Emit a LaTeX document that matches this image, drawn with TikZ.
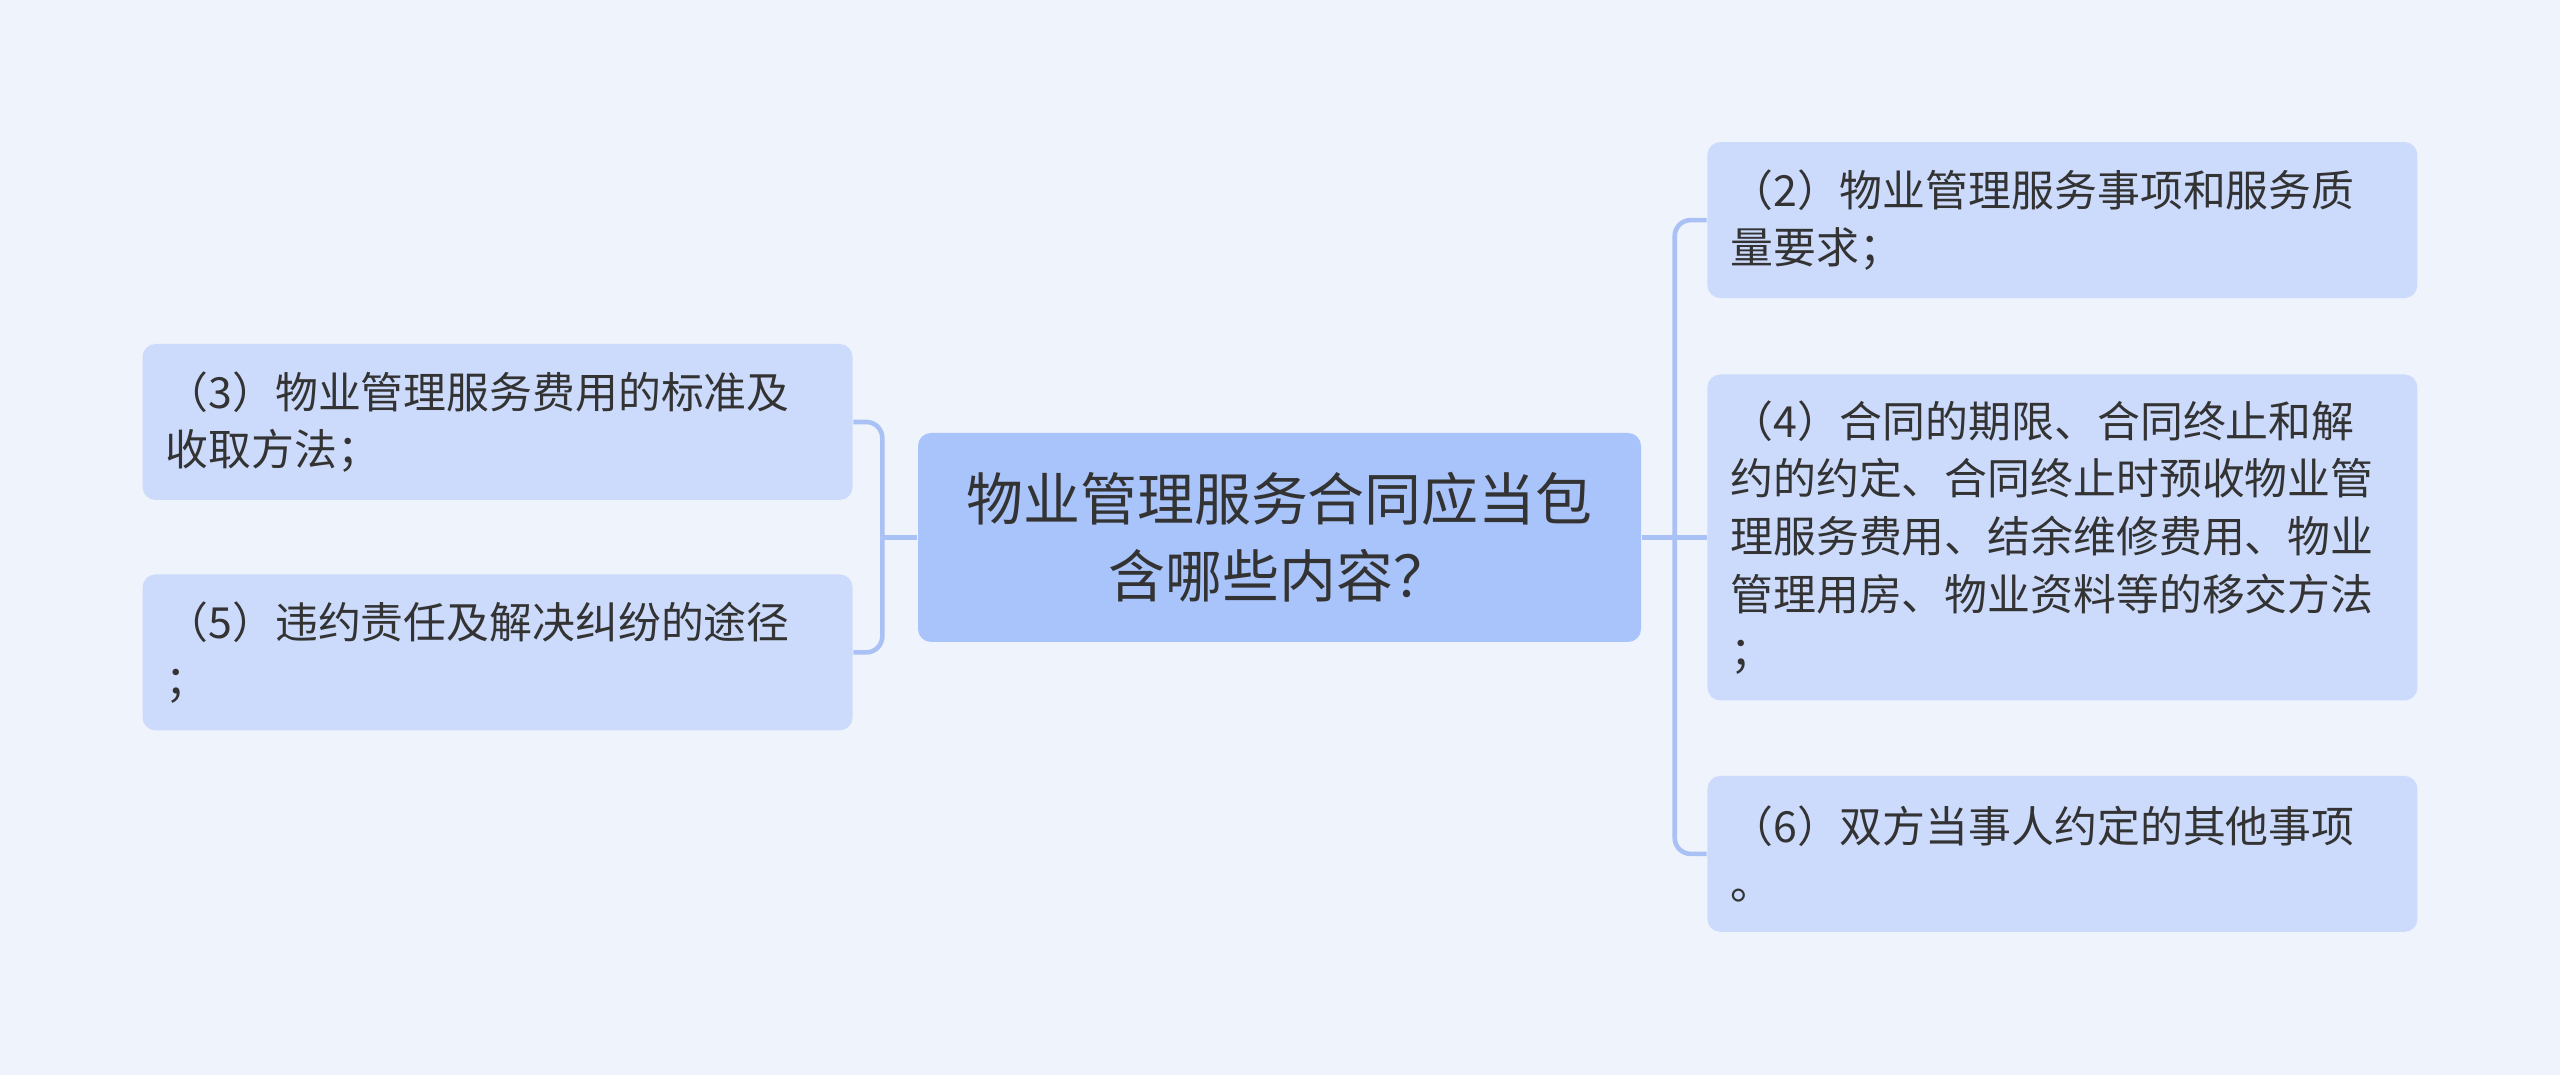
\documentclass[tikz,border=0pt]{standalone}
\usepackage{fontspec}
\setmainfont{Noto Sans CJK SC}
\usepackage{tikz}
\usetikzlibrary{positioning}

\definecolor{bgblue}{HTML}{EEF3FC}
\definecolor{leafblue}{HTML}{CCDAFB}
\definecolor{topicblue}{HTML}{A9C3FB}
\definecolor{linkblue}{HTML}{A9C1F4}
\definecolor{textgray}{HTML}{333333}

\begin{document}
\begin{tikzpicture}[
node distance=0.75cm and 0.65cm,
every node/.style={
rectangle,
rounded corners=0.13cm,
text=textgray,
inner sep=0pt
},
leaf/.style={
fill=leafblue,
align=left,
text width=6.64cm,
inner xsep=0.23cm,
minimum width=7.1cm,
minimum height=1.56cm,
font=\fontsize{12.2pt}{16.4pt}\selectfont
},
topic/.style={
fill=topicblue,
align=center,
minimum width=7.23cm,
minimum height=2.09cm,
font=\fontsize{16.2pt}{21.9pt}\selectfont
},
link/.style={draw=linkblue, line width=1.3pt, rounded corners=0.16cm}
]

\fill[bgblue] (0,0) rectangle (25.6,10.75);

\node[topic] (main) at (12.795,5.375) {物业管理服务合同应当包\\含哪些内容？};

\node[leaf, minimum height=3.26cm] (b4) [right=of main] {（4）合同的期限、合同终止和解\\约的约定、合同终止时预收物业管\\理服务费用、结余维修费用、物业\\管理用房、物业资料等的移交方法\\；};
\node[leaf] (b2) [above=of b4] {（2）物业管理服务事项和服务质\\量要求；};
\node[leaf] (b6) [below=0.74cm of b4] {（6）双方当事人约定的其他事项\\。};

\node[leaf] (b3) [left=0.64cm of main, yshift=1.155cm] {（3）物业管理服务费用的标准及\\收取方法；};
\node[leaf] (b5) [below=0.73cm of b3] {（5）违约责任及解决纠纷的途径\\；};

\draw[link] (main.west) -- ++(-0.35,0) coordinate (lj);
\draw[link] (lj) |- (b3.east);
\draw[link] (lj) |- (b5.east);

\coordinate (rj) at ([xshift=0.33cm]main.east);
\draw[link] (main.east) -- (b4.west);
\draw[link] (rj) |- (b2.west);
\draw[link] (rj) |- (b6.west);

\end{tikzpicture}
\end{document}
